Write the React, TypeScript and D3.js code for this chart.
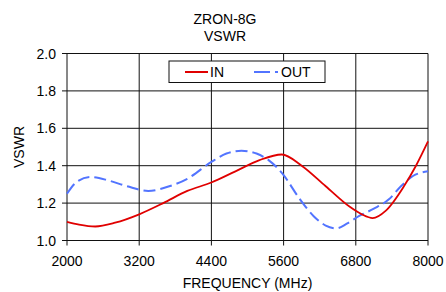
import React from 'react';
import * as d3 from 'd3';

// frequency in MHz, VSWR values
const inFreq = [2000, 2200, 2470, 2800, 3200, 3600, 4000, 4400, 4800, 5200, 5570, 5900, 6300, 6700, 6900, 7080, 7300, 7600, 7800, 8000];
const inVswr = [1.10, 1.085, 1.075, 1.095, 1.14, 1.20, 1.265, 1.31, 1.37, 1.43, 1.46, 1.40, 1.29, 1.18, 1.14, 1.12, 1.16, 1.29, 1.40, 1.53];

const outFreq = [2000, 2150, 2390, 2700, 3000, 3350, 3700, 4000, 4400, 4650, 4900, 5150, 5350, 5600, 5850, 6100, 6300, 6480, 6650, 6850, 7100, 7350, 7550, 7750, 8000];
const outVswr = [1.25, 1.31, 1.34, 1.32, 1.29, 1.265, 1.29, 1.33, 1.42, 1.465, 1.48, 1.465, 1.43, 1.35, 1.23, 1.13, 1.08, 1.065, 1.09, 1.13, 1.17, 1.22, 1.29, 1.345, 1.37];

const xTicks = [2000, 3200, 4400, 5600, 6800, 8000];
const yTicks = [1.0, 1.2, 1.4, 1.6, 1.8, 2.0];

export default function App() {
  const W = 446, H = 292;
  const margin = { top: 53.5, right: 18, bottom: 51.5, left: 67 };
  const width = W - margin.left - margin.right;
  const height = H - margin.top - margin.bottom;

  const x = d3.scaleLinear().domain([2000, 8000]).range([0, width]);
  const y = d3.scaleLinear().domain([1.0, 2.0]).range([height, 0]);

  const line = d3.line<[number, number]>()
    .x(d => x(d[0]))
    .y(d => y(d[1]))
    .curve(d3.curveMonotoneX);

  const inData = inFreq.map((f, i) => [f, inVswr[i]] as [number, number]);
  const outData = outFreq.map((f, i) => [f, outVswr[i]] as [number, number]);

  const font = '"Liberation Sans", Arial, sans-serif';
  const fs = 14;
  const red = '#e00000';
  const blue = '#5274ff';

  return (
    <svg width={W} height={H} style={{ position: 'absolute', left: 0, top: 0, background: '#fff' }} fontFamily={font}>
      <text x={225} y={24} textAnchor="middle" fontSize={fs}>ZRON-8G</text>
      <text x={225} y={40.5} textAnchor="middle" fontSize={fs}>VSWR</text>
      <g transform={`translate(${margin.left},${margin.top})`}>
        {xTicks.map(t => (
          <line key={'gx' + t} x1={x(t)} x2={x(t)} y1={0} y2={height + 5} stroke="#111" strokeWidth={1} />
        ))}
        {yTicks.map(t => (
          <line key={'gy' + t} x1={-5} x2={width} y1={y(t)} y2={y(t)} stroke="#111" strokeWidth={1} />
        ))}
        {xTicks.map(t => (
          <text key={'tx' + t} x={x(t)} y={height + 25.5} textAnchor="middle" fontSize={fs}>{t}</text>
        ))}
        {yTicks.map(t => (
          <text key={'ty' + t} x={-11} y={y(t) + 5} textAnchor="end" fontSize={fs}>{t.toFixed(1)}</text>
        ))}
        <path d={line(outData) || ''} fill="none" stroke={blue} strokeWidth={2} strokeDasharray="12,5" />
        <path d={line(inData) || ''} fill="none" stroke={red} strokeWidth={1.8} />
        <g transform="translate(102,7.5)">
          <rect x={0} y={0} width={156} height={21.5} fill="#fff" stroke="#111" strokeWidth={1} />
          <line x1={16} x2={39} y1={11} y2={11} stroke={red} strokeWidth={2} />
          <text x={41} y={16} fontSize={fs}>IN</text>
          <line x1={85} x2={109} y1={11} y2={11} stroke={blue} strokeWidth={2} strokeDasharray="16,5" />
          <text x={112} y={16} fontSize={fs}>OUT</text>
        </g>
      </g>
      <text transform={`translate(24,${margin.top + height / 2}) rotate(-90)`} textAnchor="middle" fontSize={fs}>VSWR</text>
      <text x={margin.left + width / 2} y={288} textAnchor="middle" fontSize={fs}>FREQUENCY (MHz)</text>
    </svg>
  );
}
